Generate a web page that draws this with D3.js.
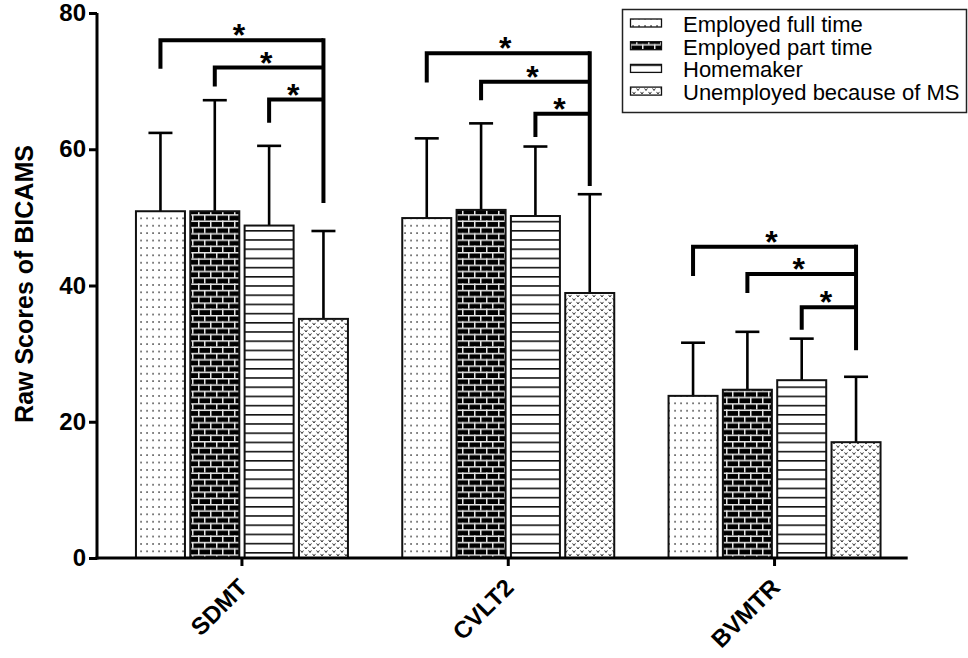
<!DOCTYPE html>
<html>
<head>
<meta charset="utf-8">
<script src="https://cdn.jsdelivr.net/npm/d3@7"></script>
<style>
  html, body { margin: 0; padding: 0; background: #fff; }
  svg { display: block; }
  text { font-family: "Liberation Sans", Arial, Helvetica, sans-serif; }
</style>
</head>
<body>
<svg id="chart" width="968" height="658"></svg>
<script>
// ---- data ----
const categories = ["SDMT", "CVLT2", "BVMTR"];
const groups = ["Employed full time", "Employed part time", "Homemaker", "Unemployed because of MS"];
const meanFullTime   = [50.9, 49.9, 23.8];
const meanPartTime   = [50.9, 51.1, 24.7];
const meanHomemaker  = [48.8, 50.2, 26.1];
const meanUnemployed = [35.1, 38.9, 17.0];
const sdFullTime   = [11.5, 11.7, 7.8];
const sdPartTime   = [16.3, 12.7, 8.5];
const sdHomemaker  = [11.7, 10.2, 6.1];
const sdUnemployed = [12.9, 14.5, 9.6];
const yTicks = [0, 20, 40, 60, 80];
const yLabel = "Raw Scores of BICAMS";
// significance brackets: each compares group i (0,1,2) with group 3
const bracketLevels   = [[76.0, 72.0, 67.3], [74.1, 69.9, 65.2], [45.7, 41.7, 36.8]];
const bracketLegEnds  = [[71.8, 69.2, 63.9], [69.8, 67.2, 61.8], [41.4, 38.9, 33.5]];
const bracketRightEnd = [52.1, 54.6, 30.5];
const sigMark = "*";

const means = [meanFullTime, meanPartTime, meanHomemaker, meanUnemployed];
const sds = [sdFullTime, sdPartTime, sdHomemaker, sdUnemployed];

const svg = d3.select("#chart");

// ---- patterns ----
const defs = svg.append("defs");
const pDots = defs.append("pattern").attr("id", "p0").attr("patternUnits", "userSpaceOnUse")
  .attr("width", 6).attr("height", 7.4);
pDots.append("rect").attr("width", 6).attr("height", 7.4).attr("fill", "#fff");
pDots.append("rect").attr("x", 2.3).attr("y", 3).attr("width", 1.5).attr("height", 1.5).attr("fill", "#333");

const pBrick = defs.append("pattern").attr("id", "p1").attr("patternUnits", "userSpaceOnUse")
  .attr("width", 12).attr("height", 12.6);
pBrick.append("rect").attr("width", 12).attr("height", 12.6).attr("fill", "#000");
pBrick.append("rect").attr("x", 0).attr("y", 0).attr("width", 12).attr("height", 1.5).attr("fill", "#e6e6e6");
pBrick.append("rect").attr("x", 0).attr("y", 6.3).attr("width", 12).attr("height", 1.5).attr("fill", "#e6e6e6");
pBrick.append("rect").attr("x", 0).attr("y", 0).attr("width", 1.5).attr("height", 6.3).attr("fill", "#e6e6e6");
pBrick.append("rect").attr("x", 6).attr("y", 6.3).attr("width", 1.5).attr("height", 6.3).attr("fill", "#e6e6e6");

const pLines = defs.append("pattern").attr("id", "p2").attr("patternUnits", "userSpaceOnUse")
  .attr("width", 10).attr("height", 9.2);
pLines.append("rect").attr("width", 10).attr("height", 9.2).attr("fill", "#fff");
pLines.append("rect").attr("x", 0).attr("y", 0).attr("width", 10).attr("height", 1.6).attr("fill", "#111");

const pHearts = defs.append("pattern").attr("id", "p3").attr("patternUnits", "userSpaceOnUse")
  .attr("width", 8).attr("height", 7);
pHearts.append("rect").attr("width", 8).attr("height", 7).attr("fill", "#fff");
pHearts.append("path").attr("d", "M0.6,0.9 L2,3 L3.4,0.9").attr("fill", "none").attr("stroke", "#333").attr("stroke-width", 1);
pHearts.append("path").attr("d", "M4.6,4.4 L6,6.5 L7.4,4.4").attr("fill", "none").attr("stroke", "#333").attr("stroke-width", 1);

const fills = ["url(#p0)", "url(#p1)", "url(#p2)", "url(#p3)"];

// ---- scales ----
const y = d3.scaleLinear().domain([0, 80]).range([558, 13]);
const x0 = d3.scaleBand().domain(categories).range([108.8, 907.7]).padding(0);
const x1 = d3.scaleBand().domain(groups).range([-106, 106]).paddingInner(0.098).paddingOuter(0);
const cx = c => x0(c) + x0.bandwidth() / 2;
const barCenter = (c, g) => cx(c) + x1(g) + x1.bandwidth() / 2;

// ---- bars ----
const barData = [];
categories.forEach((c, ci) => groups.forEach((g, gi) => {
  barData.push({ c, g, gi, m: means[gi][ci], sd: sds[gi][ci] });
}));

const gBars = svg.append("g");
gBars.selectAll("line.err").data(barData).join("line")
  .attr("x1", d => barCenter(d.c, d.g)).attr("x2", d => barCenter(d.c, d.g))
  .attr("y1", d => y(d.m)).attr("y2", d => y(d.m + d.sd))
  .attr("stroke", "#000").attr("stroke-width", 2.6);
gBars.selectAll("line.cap").data(barData).join("line")
  .attr("x1", d => barCenter(d.c, d.g) - 12).attr("x2", d => barCenter(d.c, d.g) + 12)
  .attr("y1", d => y(d.m + d.sd)).attr("y2", d => y(d.m + d.sd))
  .attr("stroke", "#000").attr("stroke-width", 2.6);
gBars.selectAll("rect.bar").data(barData).join("rect")
  .attr("x", d => cx(d.c) + x1(d.g)).attr("width", x1.bandwidth())
  .attr("y", d => y(d.m)).attr("height", d => y(0) - y(d.m))
  .attr("fill", d => fills[d.gi]).attr("stroke", "#111").attr("stroke-width", 2);

// ---- axes ----
const yAxis = d3.axisLeft(y).tickValues(yTicks).tickSize(8).tickPadding(3);
const gy = svg.append("g").attr("transform", "translate(97,0)").call(yAxis);
gy.select(".domain").attr("stroke-width", 3).attr("d", "M0,13V559.5");
gy.selectAll(".tick line").attr("stroke-width", 3);
gy.selectAll(".tick text").attr("font-size", 24).attr("font-weight", "bold").attr("fill", "#000")
  .attr("font-family", "Liberation Sans, Arial, sans-serif");

const xAxis = d3.axisBottom(x0).tickSize(8).tickPadding(0);
const gx = svg.append("g").attr("transform", "translate(0,558)").call(xAxis);
gx.select(".domain").attr("stroke-width", 3).attr("d", "M95.5,0H907.7");
gx.selectAll(".tick line").attr("stroke-width", 3);
gx.selectAll(".tick text")
  .attr("font-size", 24).attr("font-weight", "bold").attr("fill", "#000")
  .attr("font-family", "Liberation Sans, Arial, sans-serif")
  .attr("text-anchor", "end").attr("y", 0).attr("dy", 0)
  .attr("transform", "translate(7,31) rotate(-45)");

// y label
svg.append("text")
  .attr("transform", "translate(33,284) rotate(-90)")
  .attr("text-anchor", "middle").attr("font-size", 25).attr("font-weight", "bold")
  .text(yLabel);

// ---- significance brackets ----
const gSig = svg.append("g");
categories.forEach((c, ci) => {
  const xr = barCenter(c, groups[3]);
  bracketLevels[ci].forEach((lv, bi) => {
    const xl = barCenter(c, groups[bi]);
    gSig.append("path")
      .attr("d", `M${xl},${y(bracketLegEnds[ci][bi])}V${y(lv)}H${xr}`)
      .attr("fill", "none").attr("stroke", "#000").attr("stroke-width", 4).attr("stroke-linejoin", "miter");
    gSig.append("text")
      .attr("x", (xl + xr) / 2 - 3).attr("y", y(lv) + 6)
      .attr("text-anchor", "middle").attr("font-size", 32).attr("font-weight", "bold")
      .text(sigMark);
  });
  gSig.append("line")
    .attr("x1", xr).attr("x2", xr)
    .attr("y1", y(bracketLevels[ci][0]) - 2).attr("y2", y(bracketRightEnd[ci]))
    .attr("stroke", "#000").attr("stroke-width", 4);
});

// ---- legend ----
const lg = svg.append("g");
lg.append("rect").attr("x", 622.5).attr("y", 9.5).attr("width", 344).attr("height", 103)
  .attr("fill", "#fff").attr("stroke", "#222").attr("stroke-width", 1.5);
groups.forEach((g, gi) => {
  const base = 32 + gi * 22.7;
  lg.append("rect").attr("x", 630.5).attr("y", base - 13).attr("width", 31).attr("height", 8)
    .attr("fill", fills[gi]).attr("stroke", "#111").attr("stroke-width", 1.3);
  lg.append("text").attr("x", 683).attr("y", base).attr("font-size", 22).attr("fill", "#000").text(g);
});
</script>
</body>
</html>
